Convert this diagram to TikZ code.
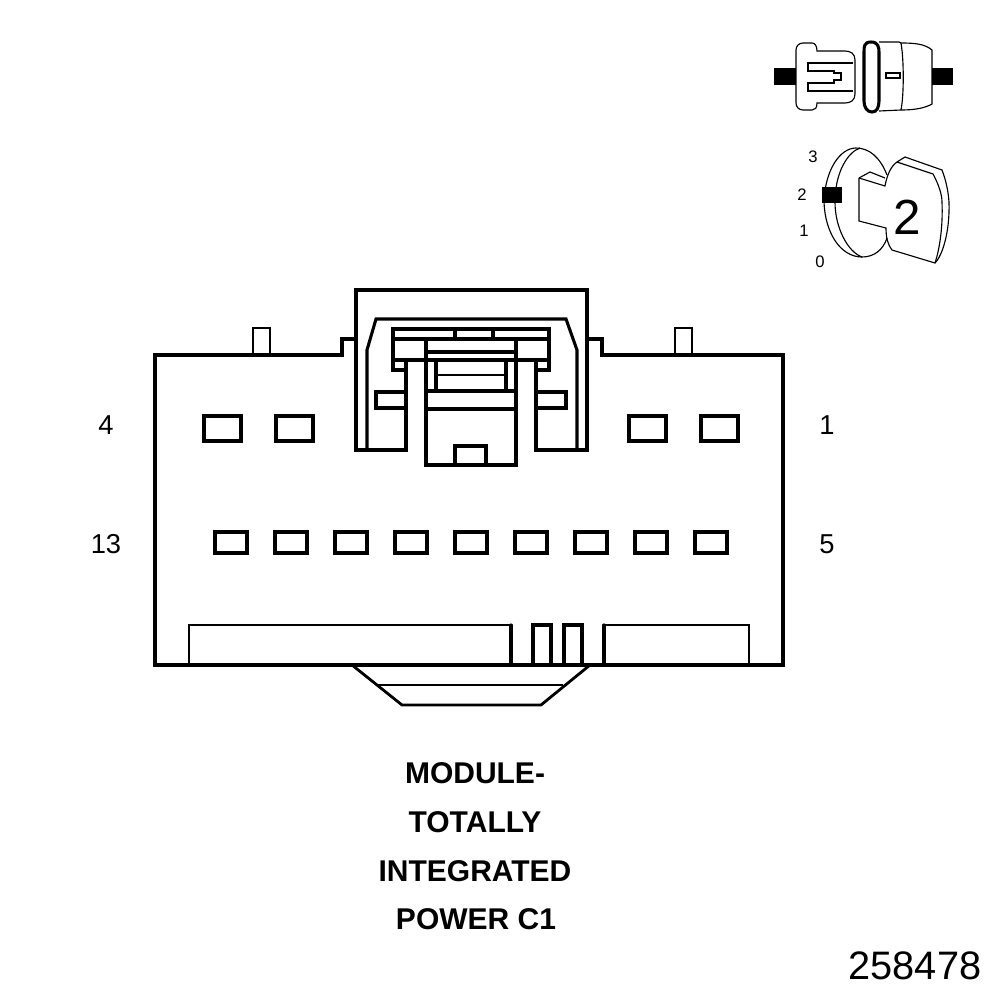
\documentclass[tikz,border=0pt]{standalone}
\usepackage{fontspec}
\setmainfont{Liberation Sans}
\tikzset{
  heavy/.style={line width=2.3pt,line join=miter,line cap=round},
  mid/.style={line width=2.1pt},
  thin line/.style={line width=0.85pt},
  lab/.style={inner sep=0pt,font=\fontsize{20.5}{20.5}\selectfont},
  tiny lab/.style={inner sep=0pt,font=\fontsize{12.5}{12.5}\selectfont},
  titl/.style={inner sep=0pt,font=\bfseries\fontsize{22.5}{22.5}\selectfont},
}
\begin{document}
\begin{tikzpicture}[x=0.75pt,y=-0.75pt]
\useasboundingbox (0,0) rectangle (1008,1000);
% body
\draw[heavy] (356,339) -- (342,339) -- (342,355) -- (155,355) -- (155,665) -- (783,665) -- (783,355) -- (602,355) -- (602,339) -- (587,339);
\draw[mid] (253,355) -- (253,328) -- (270,328) -- (270,355);
\draw[mid] (675,355) -- (675,328) -- (692,328) -- (692,355);
% latch
\draw[heavy] (367,450) -- (367,350) -- (376,319) -- (566,319) -- (577,350) -- (577,450);
\draw[heavy] (406,360) -- (406,450) -- (356,450) -- (356,290) -- (587,290) -- (587,450) -- (536,450) -- (536,360);
\draw[heavy] (393,329) rectangle (549,360);
\draw[heavy] (393,339) -- (549,339);
\draw[heavy] (455,329) -- (455,339);
\draw[heavy] (493,329) -- (493,339);
\draw[heavy] (393,360) -- (393,370) -- (406,370);
\draw[heavy] (549,360) -- (549,370) -- (536,370);
\draw[heavy] (406,392) -- (376,392) -- (376,408) -- (406,408);
\draw[heavy] (536,392) -- (566,392) -- (566,408) -- (536,408);
\draw[heavy] (426,340) -- (426,465) -- (516,465) -- (516,340);
\draw[heavy] (426,352) -- (516,352);
\draw[heavy] (436,360) -- (436,391);
\draw[heavy] (506,360) -- (506,391);
\draw[mid] (436,375) -- (506,375);
\draw[heavy] (426,391) -- (516,391);
\draw[heavy] (426,409) -- (516,409);
\draw[heavy] (455,465) -- (455,446) -- (486,446) -- (486,465);
% pins
\foreach \x in {204,276,629,701} \draw[heavy] (\x,416) rectangle ++(37,25);
\foreach \x in {231,291,351,411,471,531,591,651,711} \draw[heavy] (\x-16,532) rectangle (\x+16,553);
% lower slots
\draw[mid] (189,665) -- (189,625) -- (511,625);
\draw[heavy] (511,625) -- (511,665);
\draw[heavy] (533,665) -- (533,625) -- (551,625) -- (551,665);
\draw[heavy] (564,665) -- (564,625) -- (582,625) -- (582,665);
\draw[heavy] (604,665) -- (604,625);
\draw[mid] (604,625) -- (749,625) -- (749,665);
% lower trapezoid
\draw[mid] (352,665) -- (402,705) -- (541,705) -- (590,665);
\draw[mid] (377,685) -- (563,685);
% pin labels
\node[lab] (p4) at (106,425) {4};
\node[lab] (p1) at (827,425) {1};
\node[lab] (p13) at (106,544) {13};
\node[lab] (p5) at (827,544) {5};
% title
\node[titl] (t1) at (475,773) {MODULE-};
\node[titl] (t2) at (475,822) {TOTALLY};
\node[titl] (t3) at (475,871) {INTEGRATED};
\node[titl] (t4) at (476,919) {POWER C1};
\node[inner sep=0pt,font=\fontsize{29.8}{29.8}\selectfont] (num) at (915,966) {258478};
% connector icon
\fill (774,68) rectangle (796,85);
\fill (932,68) rectangle (953,85);
\draw[thin line] (803,43) .. controls (799,43) and (796,46) .. (796,50) -- (796,103) .. controls (796,107) and (799,110) .. (803,110) -- (812,110) .. controls (815,110) and (817,108) .. (817,103) -- (845,103) .. controls (851,103) and (855,100) .. (855,94) -- (855,60) .. controls (855,54) and (851,51) .. (845,51) -- (817,51) .. controls (817,46) and (815,43) .. (812,43) -- cycle;
\draw[thin line] (853,63) -- (808,63) -- (808,71) -- (834,71) -- (834,73) -- (841,73) -- (841,80) -- (834,80) -- (834,83) -- (808,83) -- (808,91) -- (853,91);
\draw[line width=2.3pt] (871,42) .. controls (864,42) and (864,47) .. (864,52) -- (864,101) .. controls (864,107) and (867,112) .. (872,112) .. controls (877,112) and (879,107) .. (879,101) -- (879,52) .. controls (879,47) and (878,42) .. (871,42) -- cycle;
\draw[thin line] (879,42) -- (899,42) -- (901,43) .. controls (915,43) and (925,44) .. (932,50) -- (932,104) .. controls (925,108) and (915,110) .. (901,110) -- (879,111);
\draw[thin line] (901,43) .. controls (904,60) and (904,95) .. (901,110);
\draw[thin line] (886,73) rectangle (900,78);
% cavity icon
\draw[thin line] (887,175) .. controls (880,157) and (869,148) .. (856,148) .. controls (840,148) and (825,170) .. (824,202) .. controls (825,232) and (840,257) .. (862,257) .. controls (874,257) and (883,250) .. (887,238);
\draw[thin line] (860,148) .. controls (848,152) and (835,172) .. (835,202) .. controls (835,228) and (848,252) .. (862,257);
\draw[thin line] (859,178) -- (870,172) -- (885,178);
\draw[thin line] (859,178) -- (859,221) -- (886,228) .. controls (886,238) and (888,245) .. (892,250) -- (935,263) .. controls (943,255) and (950,230) .. (949,202) .. controls (948,188) and (945,178) .. (942,170) -- (905,157) -- (897,162) .. controls (891,166) and (887,175) .. (885,186) -- (859,178);
\draw[thin line] (897,162) -- (933,174) .. controls (939,185) and (942,195) .. (942,202) .. controls (943,225) and (940,248) .. (935,263);
\fill (822,187) rectangle (842,203);
\node[tiny lab] (d3) at (813,157) {3};
\node[tiny lab] (d2) at (802,195) {2};
\node[tiny lab] (d1) at (804,231) {1};
\node[tiny lab] (d0) at (820,262) {0};
\node[inner sep=0pt,font=\fontsize{37}{37}\selectfont] (big) at (907,217) {2};
\end{tikzpicture}
\end{document}
